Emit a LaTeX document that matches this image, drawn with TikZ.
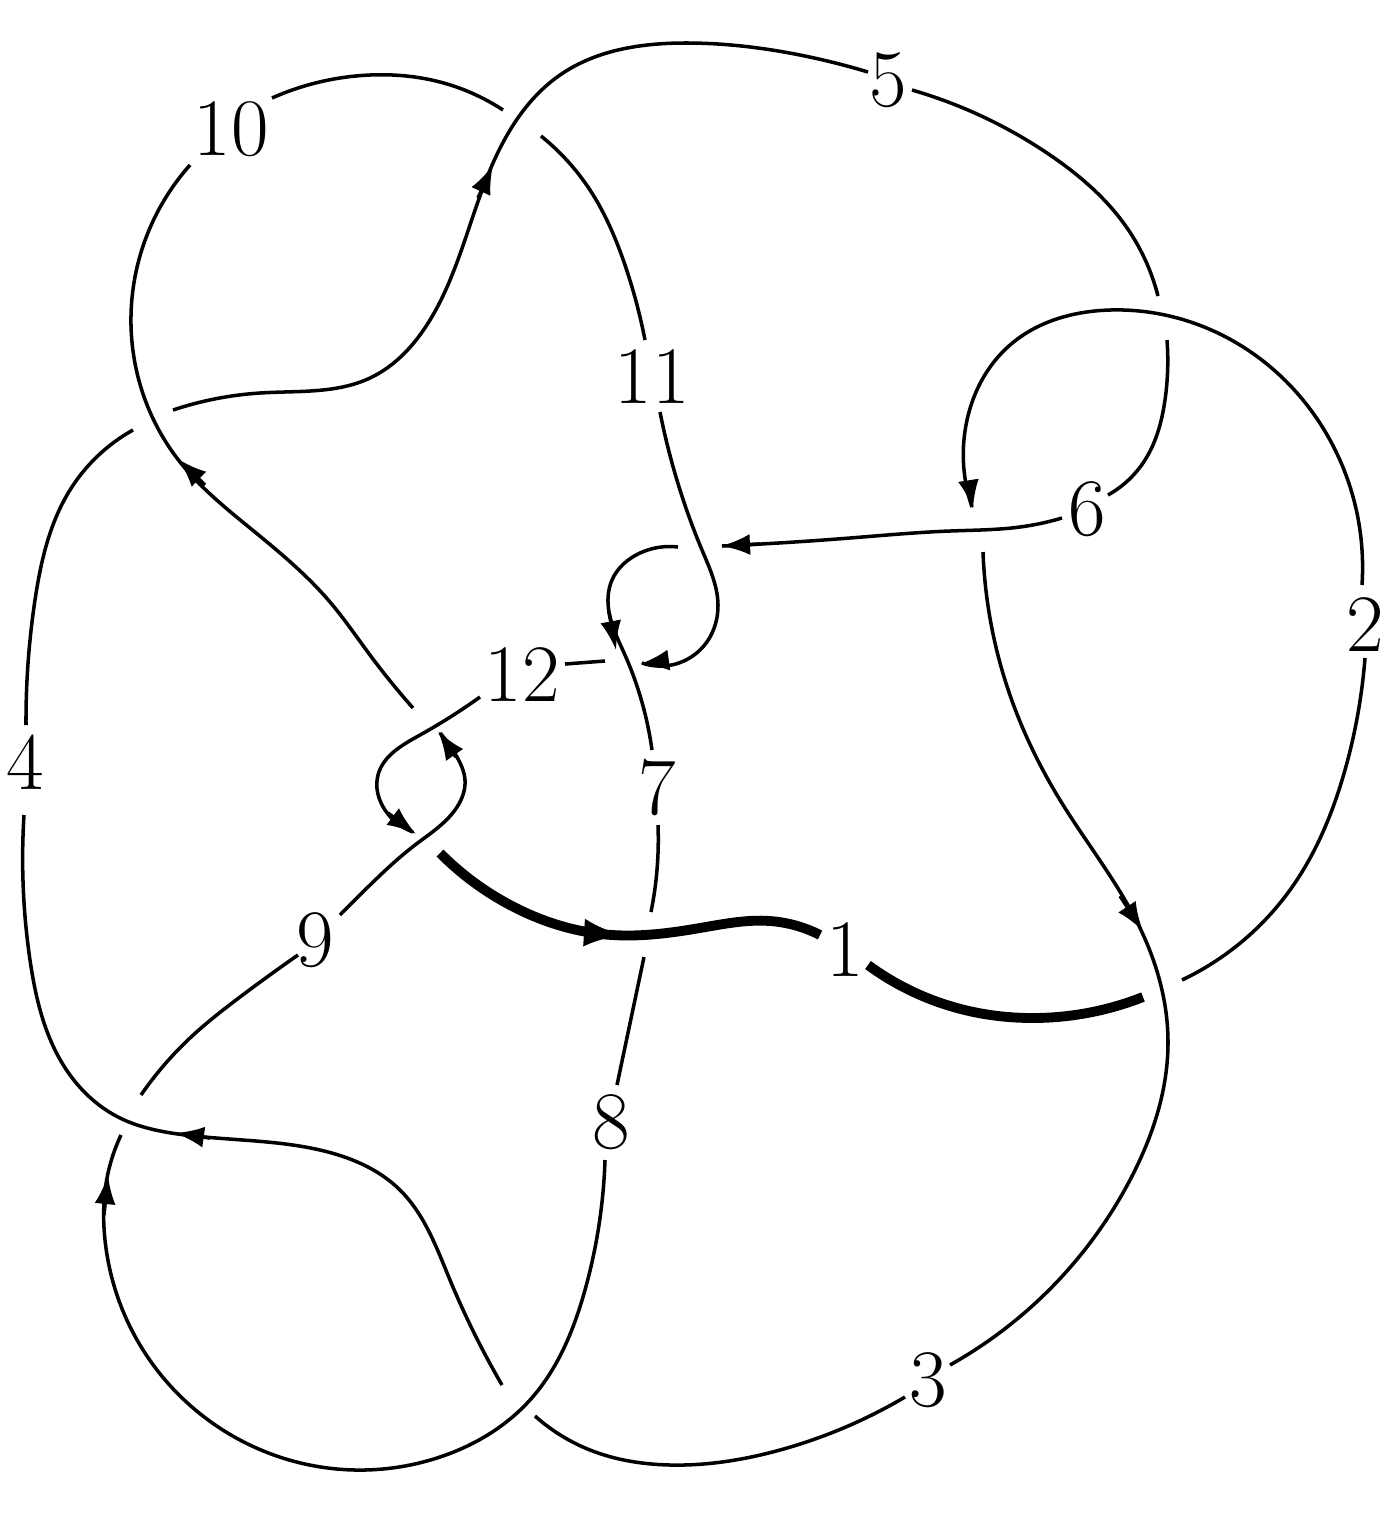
\documentclass[tikz,border=0pt]{standalone}
\usetikzlibrary{arrows.meta,hobby}
\tikzset{
  arc/.style={line width=1pt,use Hobby shortcut},
  thickarc/.style={line width=2.8pt,use Hobby shortcut},
  head/.style={-{Latex[length=2.9mm,width=2.1mm]},line width=1pt},
  thickhead/.style={-{Latex[length=3.7mm,width=2.8mm]},line width=1pt},
  lab/.style={inner sep=0pt,font=\fontsize{23.2}{26}\selectfont}
}
\begin{document}
\begin{tikzpicture}[x=0.01cm,y=-0.01cm]
\useasboundingbox (0,0) rectangle (1399,1535);
% labels
\node[lab] (l1) at (845,950) {1};
\node[lab] (l2) at (1365,625) {2};
\node[lab] (l3) at (928,1380) {3};
\node[lab] (l4) at (25,762) {4};
\node[lab] (l5) at (888,80) {5};
\node[lab] (l6) at (1087,509) {6};
\node[lab] (l7) at (657,788) {7};
\node[lab] (l8) at (611,1122) {8};
\node[lab] (l9) at (315,940) {9};
\node[lab] (l10) at (231,129) {10};
\node[lab] (l11) at (652,377) {11};
\node[lab] (l12) at (522,675) {12};
% arc 1
\draw[thickarc] (440,853) .. (510,905) .. (612,935) .. (700,928) .. (770,921) .. (820,935);
\draw[thickarc] (868,965) .. (950,1006) .. (1035,1018) .. (1143,997);
\draw[thickhead] (590,933) -- (621,935);
% arc 2
\draw[arc] (1182,980) .. (1290,890) .. (1345,770) .. (1365,658);
\draw[arc] (1362,585) .. (1330,440) .. (1240,345) .. (1110,310) .. (1010,345) .. (966,425) .. (972,507);
\draw[head] (970,490) -- (973,509);
% arc 3
\draw[arc] (983,552) .. (1005,680) .. (1060,800) .. (1140,928) .. (1168,1040) .. (1130,1180) .. (950,1365);
\draw[arc] (905,1397) .. (780,1450) .. (670,1465) .. (590,1450) .. (535,1416);
\draw[head] (1120,896) -- (1143,931);
% arc 4
\draw[arc] (502,1385) .. (450,1280) .. (400,1190) .. (320,1150) .. (178,1134) .. (120,1118) .. (70,1075) .. (30,960) .. (24,815);
\draw[arc] (26,725) .. (35,600) .. (70,490) .. (133,430);
\draw[head] (210,1138) -- (175,1133);
% arc 5
\draw[arc] (173,410) .. (260,393) .. (370,378) .. (430,320) .. (490,170) .. (560,75) .. (690,43) .. (800,55) .. (868,72);
\draw[arc] (912,90) .. (1050,155) .. (1125,225) .. (1158,296);
\draw[head] (478,198) -- (493,165);
% arc 6
\draw[arc] (1167,340) .. (1165,400) .. (1145,460) .. (1108,495);
\draw[arc] (1062,518) .. (1020,527) .. (950,531) .. (850,538) .. (722,546);
\draw[head] (760,544) -- (721,546);
% arc 7
\draw[arc] (678,547) .. (640,553) .. (612,580) .. (609,612) .. (625,655) .. (652,750);
\draw[arc] (658,825) .. (657,870) .. (651,912);
\draw[head] (609,612) -- (616,650);
% arc 8
\draw[arc] (644,957) -- (617,1085);
\draw[arc] (605,1160) .. (585,1290) .. (530,1400) .. (440,1457) .. (355,1470) .. (240,1440) .. (140,1345) .. (105,1240) .. (107,1178) .. (121,1135);
\draw[head] (104,1215) -- (108,1175);
% arc 9
\draw[arc] (141,1095) .. (190,1038) .. (240,997) .. (298,955);
\draw[arc] (340,915) .. (370,885) .. (415,845) .. (455,810) .. (465,780) .. (457,757) .. (440,733);
\draw[head] (456,757) -- (438,731);
% arc 10
\draw[arc] (413,708) .. (370,655) .. (330,602) .. (250,528) .. (180,462) .. (131,325) .. (190,165);
\draw[arc] (272,98) .. (370,75) .. (440,82) .. (503,110);
\draw[head] (205,485) -- (178,459);
% arc 11
\draw[arc] (541,136) .. (590,190) .. (625,265) .. (645,340);
\draw[arc] (660,412) .. (680,490) .. (702,550) .. (718,605) .. (700,650) .. (642,663);
\draw[head] (662,661) -- (640,664);
% arc 12
\draw[arc] (605,661) -- (565,664);
\draw[arc] (480,697) .. (420,735) .. (378,775) .. (385,810) .. (413,832);
\draw[head] (388,813) -- (416,834);
\end{tikzpicture}
\end{document}
